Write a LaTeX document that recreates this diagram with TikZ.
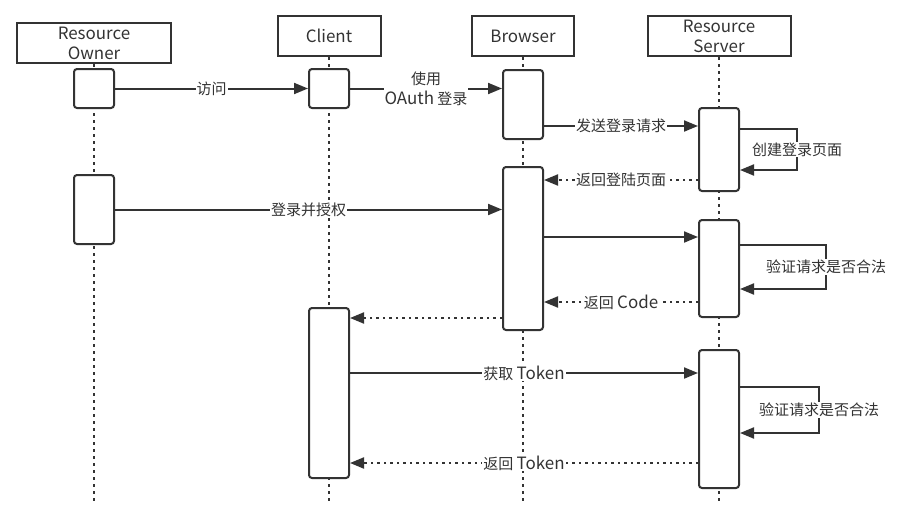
\documentclass[tikz,border=0pt]{standalone}
\usepackage{fontspec}
\setmainfont{Noto Sans CJK SC}
\newfontfamily\lat{Noto Sans CJK SC}[Scale=1.13]
\usetikzlibrary{arrows.meta}
\definecolor{ink}{HTML}{333333}
\begin{document}
\begin{tikzpicture}[x=1pt,y=-1pt,line width=2pt,color=ink,
    font=\fontsize{15}{20}\selectfont,
    head/.style={draw,rectangle,minimum height=40pt,align=center,inner sep=0pt,font=\fontsize{15}{20}\selectfont\lat},
    act/.style={draw,fill=white,rounded corners=3pt,minimum width=40pt,inner sep=0pt},
    life/.style={dash pattern=on 3pt off 4pt},
    msg/.style={-{Triangle[length=14pt,width=11pt]}},
    reply/.style={msg,dash pattern=on 2.5pt off 4pt},
    lbl/.style={fill=white,inner sep=1pt}]
  \useasboundingbox (0,0) rectangle (906,504);

  \node[head,minimum width=154pt] (owner) at (94,43) {Resource\\Owner};
  \node[head,minimum width=103pt] (client) at (329,36) {Client};
  \node[head,minimum width=102pt] (browser) at (523,36) {Browser};
  \node[head,minimum width=143pt] (server) at (719,36) {Resource\\Server};

  \coordinate (bot) at (0,504);
  \draw[life] (owner.south) -- (owner.south |- bot);
  \draw[life] (client.south) -- (client.south |- bot);
  \draw[life] (browser.south) -- (browser.south |- bot);
  \draw[life] (server.south) -- (server.south |- bot);

  \node[act,minimum height=39pt] (ro1) at (94,88.5) {};
  \node[act,minimum height=69pt] (ro2) at (94,209.5) {};
  \node[act,minimum height=39pt] (cl1) at (329,88.5) {};
  \node[act,minimum height=170pt] (cl2) at (329,393) {};
  \node[act,minimum height=69pt] (br1) at (523,104.5) {};
  \node[act,minimum height=163pt] (br2) at (523,248.5) {};
  \node[act,minimum height=83pt] (sv1) at (719,149.5) {};
  \node[act,minimum height=97pt] (sv2) at (719,268.5) {};
  \node[act,minimum height=138pt] (sv3) at (719,419) {};

  \coordinate (m1) at (0,126);
  \coordinate (m2) at (0,129);
  \coordinate (m3) at (0,180);
  \coordinate (m4) at (0,237);
  \coordinate (m5) at (0,245);
  \coordinate (m6) at (0,302);
  \coordinate (m7) at (0,318);
  \coordinate (m8) at (0,373);
  \coordinate (m9) at (0,387);
  \coordinate (m10) at (0,463);

  \draw[msg] (ro1.east) -- node[lbl] {访问} (cl1.west);
  \draw[msg] (cl1.east) -- node[lbl,align=center] {使用\\{\lat OAuth} 登录} (cl1.east -| br1.west);
  \draw[msg] (br1.east |- m1) -- node[lbl] {发送登录请求} (sv1.west |- m1);
  \draw[msg] (sv1.east |- m2) -- ++(57,0) -- node[lbl] {创建登录页面} ++(0,41) -- ++(-57,0);
  \draw[reply] (sv1.west |- m3) -- node[lbl] {返回登陆页面} (br2.east |- m3);
  \draw[msg] (ro2.east) -- node[lbl] {登录并授权} (ro2.east -| br2.west);
  \draw[msg] (br2.east |- m4) -- (sv2.west |- m4);
  \draw[msg] (sv2.east |- m5) -- ++(86,0) -- node[lbl] {验证请求是否合法} ++(0,44) -- ++(-86,0);
  \draw[reply] (sv2.west |- m6) -- node[lbl] {返回 {\lat Code}} (br2.east |- m6);
  \draw[reply] (br2.west |- m7) -- (cl2.east |- m7);
  \draw[msg] (cl2.east |- m8) -- node[lbl] {获取 {\lat Token}} (sv3.west |- m8);
  \draw[msg] (sv3.east |- m9) -- ++(79,0) -- node[lbl] {验证请求是否合法} ++(0,46) -- ++(-79,0);
  \draw[reply] (sv3.west |- m10) -- node[lbl] {返回 {\lat Token}} (cl2.east |- m10);
\end{tikzpicture}
\end{document}
